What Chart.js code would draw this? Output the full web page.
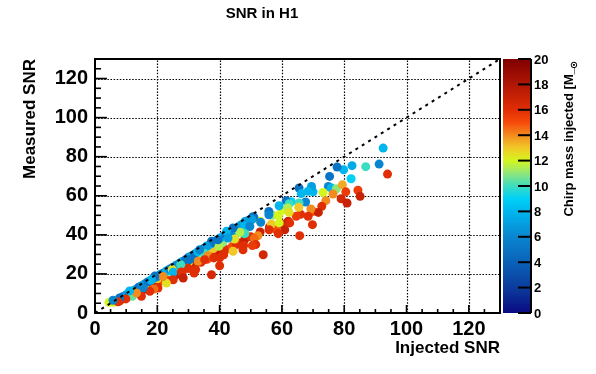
<!DOCTYPE html>
<html>
<head>
<meta charset="utf-8">
<script src="https://cdn.jsdelivr.net/npm/chart.js@4.4.0/dist/chart.umd.min.js"></script>
<style>
  html, body { margin: 0; padding: 0; background: #fff; }
  #wrap { width: 596px; height: 374px; }
</style>
</head>
<body>
<div id="wrap"><canvas id="c" width="596" height="374"></canvas></div>
<script>
// ---------------- DATA ----------------
const TITLE = 'SNR in H1';
const X_TITLE = 'Injected SNR';
const Y_TITLE = 'Measured SNR';
const Z_TITLE = 'Chirp mass injected [M_';
const Z_SUB = '\u2299';
const X_TICKS = [0, 20, 40, 60, 80, 100, 120];
const Y_TICKS = [0, 20, 40, 60, 80, 100, 120];
const Z_TICKS = [0, 2, 4, 6, 8, 10, 12, 14, 16, 18, 20];
const DIAG_X = [0, 130];
const DIAG_Y = [0, 130];

// injected SNR
const INJ = [
  8,10,12,14,16,18,20,22,24,26,28,30,32,34,36,38,40,42,44,46,48,50,53,56,58,60,62,66,70,
  6,10,14,16,20,24,26,30,33,36,38,41,43,45,48,53,57,60,63,70,
  8,9,10,11,12,13,14,15,16,17,18,19,20,21,22,23,24,25,26,27,28,29,30,31,32,33,34,35,36,37,38,39,40,41,42,43,44,45,46,47,48,49,50,51,
  92.5,91.2,93.9,86.9,82.5,79.8,77.7,82.2,75.3,74.9,75.9,77.5,79.4,73.2,76.4,80.5,84.4,85.1,79.0,80.9,
  74.1,72.8,71.7,69.3,68.4,69.8,65.5,66.2,69.5,68.4,67.6,65.5,65.4,64.6,61.4,59.1,62.3,61.9,62.3,58.9,
  62.5,60.9,58.8,56.6,59.1,55.9,65.7,55.8,55.8,53.2,50.7,50.4,48.1,48.1,49.7,47.5,48.1,46.5,52.3,51.1,
  51.6,50.5,54.0,47.7,47.5,45.4,44.3,44.8,44.3,42.2,42.7,39.8,39.5,37.4,35.8,35.2,33.6,33.1,36.3,38.1,
  40.0,41.3,40.0,37.4,35.2,32.3,31.8,29.9,30.4,27.5,24.8,25.1,27.7,28.3,25.1,22.9,21.8,20.2,18.9,17.6,
  19.2,18.1,15.4,14.9,12.0,13.3,11.1,9.9,7.9,7.4,4.5,5.8
];
// measured SNR
const MEAS = [
  6.2,7.8,9.3,10.6,12.2,13.8,15.0,16.5,18.2,19.5,21.0,22.8,24.5,26.0,27.5,29.8,31.0,32.5,34.0,36.0,37.5,39.0,41.5,44.0,43.0,45.5,47.0,50.5,52.0,
  5.5,9.0,12.5,14.0,17.5,21.0,22.8,26.0,28.8,31.5,33.0,36.0,38.8,40.0,42.5,47.0,50.0,52.5,57.0,62.0,
  7.5,8.5,9.3,10.2,11.2,12.0,13.2,14.0,15.0,16.0,16.8,18.0,18.6,19.8,20.5,21.6,22.5,23.4,24.5,25.3,26.4,27.2,28.5,29.3,30.2,31.4,32.1,33.2,34.3,35.2,36.0,37.1,38.3,39.2,40.0,41.2,42.0,43.3,44.1,45.2,46.0,47.2,48.2,49.0,
  84.4,76.2,71.1,74.9,75.4,73.3,74.7,68.7,69.9,64.8,64.0,63.6,65.6,61.7,60.9,62.0,62.8,59.7,58.5,56.3,
  57.5,54.6,51.5,53.2,49.5,45.2,64.0,61.1,64.8,62.3,56.8,56.3,54.1,49.5,57.5,54.9,55.9,53.7,51.5,49.9,
  46.1,42.6,40.6,45.5,46.1,42.6,39.6,52.0,50.3,46.4,49.3,47.8,46.8,44.3,44.3,40.9,40.6,41.3,39.6,38.2,
  35.0,34.5,29.8,34.6,32.4,35.0,31.6,37.9,43.5,41.8,38.4,34.1,37.5,36.7,34.1,30.4,32.4,26.5,29.3,28.2,
  28.2,29.8,24.2,19.6,27.3,22.2,20.5,23.0,27.3,24.7,22.2,20.9,21.0,17.9,17.0,15.3,18.7,12.8,12.3,11.1,
  18.9,17.1,12.8,8.6,8.6,10.3,11.3,7.2,7.7,5.7,5.5,6.5
];
// injected chirp mass
const MCHIRP = [
  16,17,15,16,18,16,17,15,16,17,16,15,17,16,15,16,17,16,15,16,17,16,17,16,15,16,17,16,15,
  12,11,11,12,13,11,12,12,11,12,13,11,12,10,13,12,11,12,9,8,
  5,6,7,5,6,8,5,6,7,5,8,5,6,7,5,8,6,5,7,6,8,5,6,7,5,8,6,5,7,8,5,6,7,8,5,7,6,8,5,7,8,5,6,5,
  8,6,16,10,7.5,8,5,9,5,6,8,11,13.5,12,14,15.5,15.5,17,16.5,17,
  14,16,17,14,16,16,5,8,7,8,6,10,13,15.5,5,8,10,11.5,12.5,12,
  16,17,16,13,12,16,16,5,6,6,5,7,7,8,6,10.5,10,11.5,14,14.5,
  16,15.5,16.5,16,16,16,13,12.5,5,8,7,11.5,5,5,7,10,6,14,14,16,
  16,16,16,16.5,16,16,16,16,5,10,12.5,8,16,17,16,12.5,14,16,14.5,16,
  5,8,6,16,10.5,14,8,16,5,16,12,6
];

// ---------------- STYLE ----------------
const FONT = '"Liberation Sans", Arial, Helvetica, sans-serif';
const PALETTE = [
  [0, '#0a0a82'], [2, '#0b3c9c'], [4, '#0a62b8'], [6, '#0a86d0'], [8, '#00b6ee'],
  [9, '#00d0f6'], [10, '#3cdcc0'], [11, '#90e67a'], [12, '#d4f51e'], [13, '#f2c828'],
  [14, '#f28c1e'], [15, '#f54a0a'], [16, '#e02e05'], [18, '#b01605'], [20, '#800000']
];
function hex2rgb(h) { return [parseInt(h.substr(1,2),16), parseInt(h.substr(3,2),16), parseInt(h.substr(5,2),16)]; }
function colorFor(v) {
  if (v <= PALETTE[0][0]) return PALETTE[0][1];
  for (let i = 1; i < PALETTE.length; i++) {
    if (v <= PALETTE[i][0]) {
      const [v0, c0] = PALETTE[i-1], [v1, c1] = PALETTE[i];
      const t = (v - v0) / (v1 - v0);
      const a = hex2rgb(c0), b = hex2rgb(c1);
      return 'rgb(' + a.map((x, k) => Math.round(x + (b[k] - x) * t)).join(',') + ')';
    }
  }
  return PALETTE[PALETTE.length-1][1];
}

const points = INJ.map((x, i) => ({ x: x, y: MEAS[i] }));
const diag = DIAG_X.map((x, i) => ({ x: x, y: DIAG_Y[i] }));

const rootStyle = {
  id: 'rootStyle',
  beforeDatasetsDraw(chart) {
    const { ctx, chartArea: a, scales: { x, y } } = chart;
    ctx.save();
    ctx.strokeStyle = '#000';
    ctx.lineWidth = 1.2;
    ctx.setLineDash([1.5, 1.6]);
    X_TICKS.forEach(v => {
      if (v === 0) return;
      const px = Math.round(x.getPixelForValue(v)) + 0.5;
      ctx.beginPath(); ctx.moveTo(px, a.bottom); ctx.lineTo(px, a.top); ctx.stroke();
    });
    Y_TICKS.forEach(v => {
      if (v === 0) return;
      const py = Math.round(y.getPixelForValue(v)) + 0.5;
      ctx.beginPath(); ctx.moveTo(a.left, py); ctx.lineTo(a.right, py); ctx.stroke();
    });
    ctx.restore();
  },
  afterDatasetsDraw(chart) {
    const { ctx, chartArea: a, scales: { x, y } } = chart;
    ctx.save();
    ctx.strokeStyle = '#000';
    ctx.setLineDash([]);
    ctx.lineWidth = 2;
    ctx.strokeRect(a.left, a.top, a.right - a.left, a.bottom - a.top);
    ctx.lineWidth = 1.6;
    for (let v = 0; v <= 130; v += 5) {
      const major = v % 20 === 0;
      const px = x.getPixelForValue(v);
      ctx.beginPath(); ctx.moveTo(px, a.bottom); ctx.lineTo(px, a.bottom - (major ? 8 : 4)); ctx.stroke();
      const py = y.getPixelForValue(v);
      ctx.beginPath(); ctx.moveTo(a.left, py); ctx.lineTo(a.left + (major ? 12 : 6), py); ctx.stroke();
    }
    ctx.restore();
  },
  afterDraw(chart) {
    const { ctx, chartArea: a } = chart;
    ctx.save();
    // title
    ctx.fillStyle = '#000';
    ctx.font = 'bold 15px ' + FONT;
    ctx.textAlign = 'center';
    ctx.textBaseline = 'middle';
    ctx.fillText(TITLE, 262, 14);
    // colour bar
    const x0 = 503, x1 = 531, top = a.top, bot = a.bottom;
    const zmin = Z_TICKS[0], zmax = Z_TICKS[Z_TICKS.length - 1];
    const g = ctx.createLinearGradient(0, bot, 0, top);
    PALETTE.forEach(([v, c]) => g.addColorStop((v - zmin) / (zmax - zmin), c));
    ctx.fillStyle = g;
    ctx.fillRect(x0, top, x1 - x0, bot - top);
    ctx.strokeStyle = '#000';
    ctx.lineWidth = 2;
    ctx.beginPath(); ctx.moveTo(x1, top); ctx.lineTo(x1, bot); ctx.stroke();
    ctx.font = 'bold 13px ' + FONT;
    ctx.fillStyle = '#000';
    ctx.textAlign = 'left';
    ctx.textBaseline = 'middle';
    Z_TICKS.forEach(v => {
      const py = bot - (v - zmin) / (zmax - zmin) * (bot - top);
      ctx.beginPath(); ctx.moveTo(x1, py); ctx.lineTo(x1 - 13, py); ctx.stroke();
      ctx.fillText(String(v), 534, py + 1);
    });
    // colour bar title
    ctx.translate(569, 67);
    ctx.rotate(-Math.PI / 2);
    ctx.font = 'bold 13px ' + FONT;
    ctx.textAlign = 'right';
    ctx.textBaseline = 'middle';
    ctx.fillText(Z_TITLE, 0, 0);
    ctx.font = 'bold 10px "DejaVu Sans", sans-serif';
    ctx.textAlign = 'left';
    ctx.fillText(Z_SUB, -2, 5);
    ctx.restore();
  }
};

const tickFont = { family: FONT, weight: 'bold', size: 20 };
const titleFont = { family: FONT, weight: 'bold', size: 17 };

new Chart(document.getElementById('c'), {
  type: 'scatter',
  data: {
    datasets: [
      {
        type: 'line',
        data: diag,
        borderColor: '#000',
        borderWidth: 2,
        borderDash: [3, 4.5],
        pointRadius: 0,
        fill: false,
        tension: 0
      },
      {
        data: points,
        pointRadius: 4.5,
        pointHoverRadius: 4.5,
        pointBorderWidth: 0,
        pointBackgroundColor: MCHIRP.map(colorFor),
        pointBorderColor: MCHIRP.map(colorFor)
      }
    ]
  },
  options: {
    responsive: false,
    animation: false,
    devicePixelRatio: 1,
    layout: { padding: { left: 0, right: 96, top: 59, bottom: 0 } },
    plugins: { legend: { display: false }, tooltip: { enabled: false }, title: { display: false } },
    scales: {
      x: {
        type: 'linear', min: 0, max: 130,
        afterBuildTicks: s => { s.ticks = X_TICKS.map(v => ({ value: v })); },
        afterFit: s => { s.height = 61; },
        grid: { display: false, drawTicks: false },
        border: { display: false },
        ticks: { font: tickFont, color: '#000', padding: 4, maxRotation: 0, autoSkip: false },
        title: { display: true, text: X_TITLE, align: 'end', color: '#000', font: titleFont, padding: { top: 0, bottom: 15 } }
      },
      y: {
        type: 'linear', min: 0, max: 130,
        afterBuildTicks: s => { s.ticks = Y_TICKS.map(v => ({ value: v })); },
        afterFit: s => { s.width = 95; },
        grid: { display: false, drawTicks: false },
        border: { display: false },
        ticks: { font: tickFont, color: '#000', padding: 7, autoSkip: false },
        title: { display: true, text: Y_TITLE, align: 'end', color: '#000', font: titleFont, padding: { top: 20, bottom: 0 } }
      }
    }
  },
  plugins: [rootStyle]
});
</script>
</body>
</html>
